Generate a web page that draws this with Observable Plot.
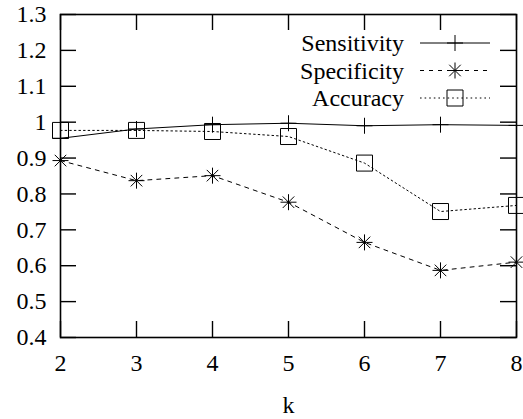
<!DOCTYPE html>
<html><head><meta charset="utf-8">
<script src="https://cdn.jsdelivr.net/npm/d3@7"></script>
<script src="https://cdn.jsdelivr.net/npm/@observablehq/plot@0.6"></script>
<style>body{margin:0;background:#fff}</style>
</head><body><div id="chart"></div>
<script>
const k = [2, 3, 4, 5, 6, 7, 8];
const sensitivity = [0.955, 0.981, 0.993, 0.997, 0.990, 0.993, 0.991];
const specificity = [0.893, 0.837, 0.851, 0.777, 0.665, 0.587, 0.610];
const accuracy = [0.977, 0.977, 0.974, 0.960, 0.886, 0.751, 0.768];
const seriesNames = ["Sensitivity", "Specificity", "Accuracy"];
const xTicks = [2, 3, 4, 5, 6, 7, 8];
const yTicks = [0.4, 0.5, 0.6, 0.7, 0.8, 0.9, 1, 1.1, 1.2, 1.3];

const W = 523, H = 419, mL = 60, mR = 7, mT = 14, mB = 82;
const pw = W - mL - mR, ph = H - mT - mB;
const FONT = "'Liberation Serif', serif";

const rad = s => Math.sqrt(s / Math.PI);
const plusSym = {draw(c, s) { const r = rad(s); c.moveTo(-r, 0); c.lineTo(r, 0); c.moveTo(0, -r); c.lineTo(0, r); }};
const starSym = {draw(c, s) { const r = rad(s), d = r * 0.72;
  c.moveTo(-r, 0); c.lineTo(r, 0); c.moveTo(0, -r); c.lineTo(0, r);
  c.moveTo(-d, -d); c.lineTo(d, d); c.moveTo(-d, d); c.lineTo(d, -d); }};
const squareSym = {draw(c, s) { const r = rad(s); c.rect(-r, -r, 2 * r, 2 * r); }};

const styles = [
  {values: sensitivity, dash: null, symbol: plusSym},
  {values: specificity, dash: "4,5", symbol: starSym},
  {values: accuracy, dash: "1.6,3", symbol: squareSym}
];

const marks = [];
styles.forEach((st, i) => {
  const data = k.map((x, j) => ({k: x, v: st.values[j]}));
  marks.push(Plot.line(data, {x: "k", y: "v", stroke: "black", strokeWidth: 1, strokeDasharray: st.dash}));
  marks.push(Plot.dot(data, {x: "k", y: "v", symbol: st.symbol, r: 8, stroke: "black", fill: "none", strokeWidth: 1}));
});

const tk = 16, tw = 1.4;
const chart = Plot.plot({
  width: W, height: H,
  marginLeft: mL, marginRight: mR, marginTop: mT, marginBottom: mB,
  style: {fontFamily: FONT, fontSize: "24px", background: "white", color: "black", overflow: "visible"},
  x: {domain: [2, 8]},
  y: {domain: [0.4, 1.3]},
  marks: [
    Plot.tickX(xTicks, {x: d => d, insetTop: ph - tk, stroke: "black", strokeWidth: tw}),
    Plot.tickX(xTicks, {x: d => d, insetBottom: ph - tk, stroke: "black", strokeWidth: tw}),
    Plot.tickY(yTicks, {y: d => d, insetRight: pw - tk, stroke: "black", strokeWidth: tw}),
    Plot.tickY(yTicks, {y: d => d, insetLeft: pw - tk, stroke: "black", strokeWidth: tw}),
    Plot.axisX(xTicks, {tickSize: 0, tickPadding: 16, label: null, fontSize: 24, fill: "black"}),
    Plot.axisY(yTicks, {tickSize: 0, tickPadding: 14, label: null, tickFormat: d => String(d), fontSize: 24, fill: "black"}),
    Plot.text(["k"], {frameAnchor: "bottom", dy: 68, lineAnchor: "middle", fontSize: 24, fill: "black"}),
    ...marks,
    Plot.frame({stroke: "black", strokeWidth: 1.6})
  ]
});

// legend inside top-right
const svg = d3.select(chart);
const right = W - mR;
const g = svg.append("g").attr("font-family", FONT).attr("font-size", 24);
styles.forEach((st, i) => {
  const y = mT + 29 + i * 27.5;
  g.append("text").attr("x", right - 112).attr("y", y).attr("dy", "0.35em")
    .attr("text-anchor", "end").attr("fill", "black").text(seriesNames[i]);
  g.append("line").attr("x1", right - 96).attr("x2", right - 26).attr("y1", y).attr("y2", y)
    .attr("stroke", "black").attr("stroke-width", 1).attr("stroke-dasharray", st.dash);
  g.append("path").attr("transform", `translate(${right - 61},${y})`)
    .attr("d", d3.symbol(st.symbol, Math.PI * 64)()).attr("fill", "none").attr("stroke", "black");
});
document.getElementById("chart").appendChild(chart);
</script>
</body></html>
